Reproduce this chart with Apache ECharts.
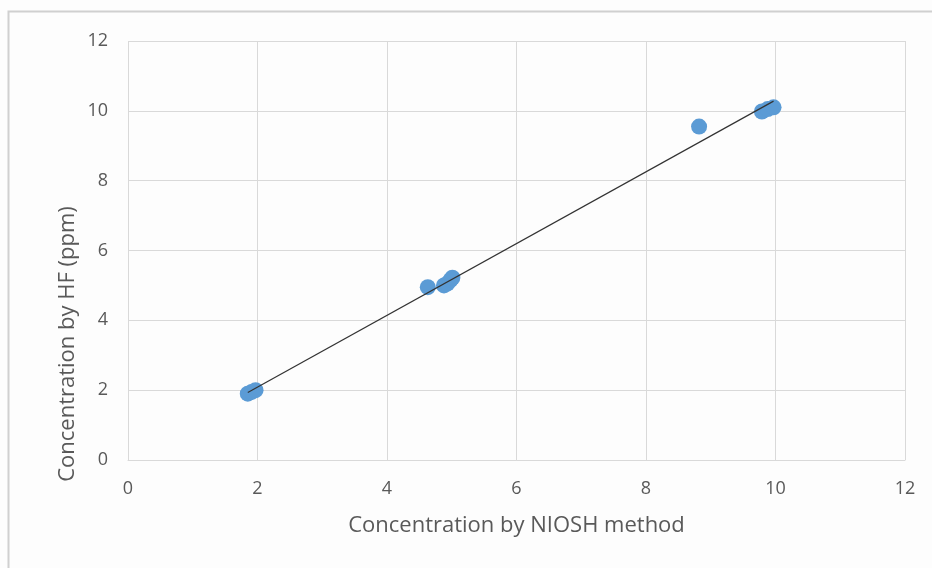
<!DOCTYPE html>
<html>
<head>
<meta charset="utf-8">
<script src="https://cdn.jsdelivr.net/npm/echarts@6/dist/echarts.min.js"></script>
<style>
  html, body { margin: 0; padding: 0; background: #fff; }
  #chart { width: 932px; height: 568px; }
</style>
</head>
<body>
<div id="chart"></div>
<script>
// NIOSH method vs HF readings
var niosh = [1.85, 1.91, 1.97, 4.63, 4.88, 4.93, 4.98, 5.01, 8.82, 9.79, 9.88, 9.97];
var hf    = [1.90, 1.95, 2.00, 4.95, 5.00, 5.05, 5.15, 5.22, 9.55, 9.98, 10.05, 10.10];
var xTicks = [0, 2, 4, 6, 8, 10, 12];
var yTicks = [0, 2, 4, 6, 8, 10, 12];

var points = niosh.map(function (x, i) { return [x, hf[i]]; });

// linear trendline (least squares), drawn from min x to max x
function trend() {
    var n = niosh.length, sx = 0, sy = 0, sxx = 0, sxy = 0;
    for (var i = 0; i < n; i++) {
        sx += niosh[i]; sy += hf[i];
        sxx += niosh[i] * niosh[i]; sxy += niosh[i] * hf[i];
    }
    var b = (n * sxy - sx * sy) / (n * sxx - sx * sx);
    var a = (sy - b * sx) / n;
    var x0 = Math.min.apply(null, niosh), x1 = Math.max.apply(null, niosh);
    return [[x0, a + b * x0], [x1, a + b * x1]];
}

var chart = echarts.init(document.getElementById('chart'));
var textColor = '#595959';

var option = {
    backgroundColor: '#fdfdfd',
    animation: false,
    graphic: [{
        type: 'rect',
        shape: { x: 8.5, y: 11.5, width: 960, height: 600 },
        style: { fill: 'none', stroke: '#d0d0d0', lineWidth: 2 },
        z: -1
    }, {
        // y axis title sits lower than the plot middle in the original
        type: 'text',
        x: 68, y: 344,
        rotation: Math.PI / 2,
        style: {
            text: 'Concentration by HF (ppm)',
            fill: textColor,
            font: '22px "Open Sans"',
            textAlign: 'center',
            textVerticalAlign: 'middle'
        }
    }],
    grid: { left: 128, right: 27, top: 41, bottom: 108 },
    xAxis: {
        type: 'value',
        min: xTicks[0], max: xTicks[xTicks.length - 1], interval: 2,
        name: 'Concentration by NIOSH method',
        nameLocation: 'middle', nameGap: 55,
        nameTextStyle: { color: textColor, fontSize: 22, fontFamily: 'Open Sans' },
        axisLine: { show: true, lineStyle: { color: '#d9d9d9' } },
        axisTick: { show: false },
        axisLabel: { color: textColor, fontSize: 18, margin: 20, fontFamily: 'Open Sans' },
        splitLine: { show: true, lineStyle: { color: '#d9d9d9' } }
    },
    yAxis: {
        type: 'value',
        min: yTicks[0], max: yTicks[yTicks.length - 1], interval: 2,
        axisLine: { show: false },
        axisTick: { show: false },
        axisLabel: { color: textColor, fontSize: 18, margin: 20, fontFamily: 'Open Sans' },
        splitLine: { show: true, lineStyle: { color: '#d9d9d9' } }
    },
    series: [
        {
            type: 'scatter',
            data: points,
            symbolSize: 16,
            itemStyle: { color: '#5b9bd5', opacity: 1 },
            z: 2
        },
        {
            type: 'line',
            data: trend(),
            symbol: 'none',
            lineStyle: { color: '#333', width: 1.2 },
            z: 3
        }
    ]
};
chart.setOption(option);
</script>
</body>
</html>
